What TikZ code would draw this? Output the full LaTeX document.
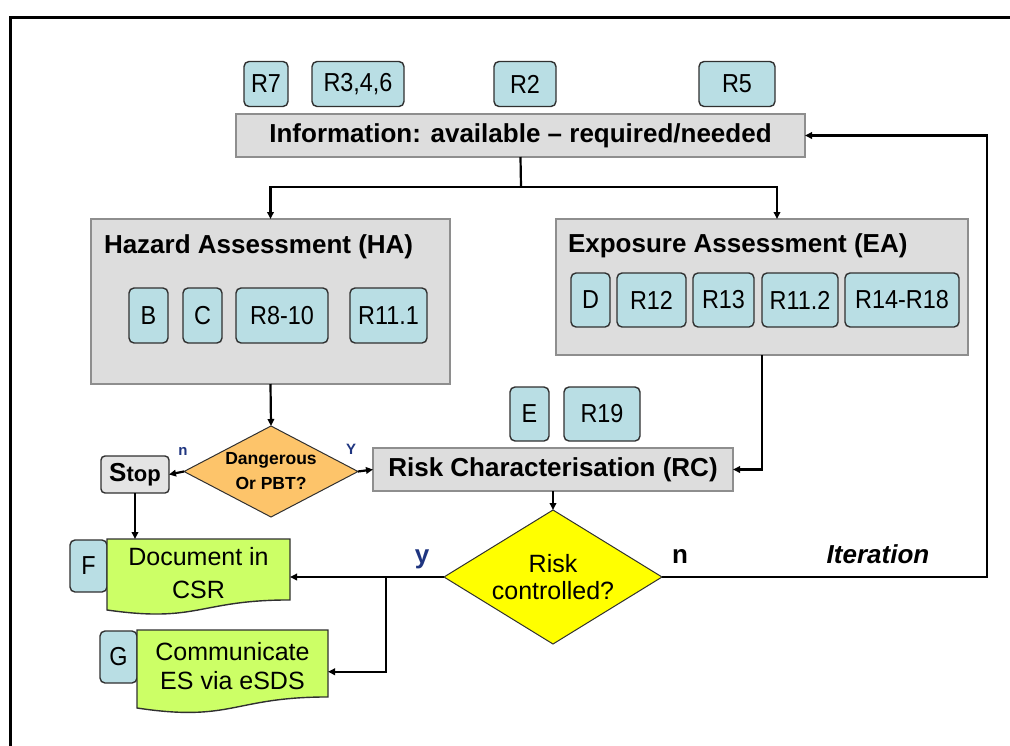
\documentclass[tikz,border=0pt]{standalone}
\usepackage{fontspec}
\setmainfont{Liberation Sans}
\newfontfamily\condensedsans[FakeStretch=0.9]{Liberation Sans}
\usetikzlibrary{arrows.meta,shapes.geometric,calc}

\definecolor{refcyan}{HTML}{B9DEE4}
\definecolor{refline}{HTML}{303030}
\definecolor{panelfill}{HTML}{DDDDDD}
\definecolor{panelline}{HTML}{8E8E8E}
\definecolor{stopfill}{HTML}{E4E4E4}
\definecolor{pbtorange}{HTML}{FDC46A}
\definecolor{ctrlyellow}{HTML}{FFFF00}
\definecolor{docgreen}{HTML}{CCFF66}
\definecolor{navy}{HTML}{1F3580}

% flow-chart "document" outline drawn from a named node: #1 node, #2 full height
\newcommand\docoutline[2]{%
  \path[docshape] (#1.north west) -- (#1.north east)
    -- ([yshift={-0.802*#2pt}]#1.north east)
    .. controls ([yshift={-0.802*#2pt}]#1.north) and ([yshift={-1.107*#2pt}]#1.north)
    .. ([yshift={-0.934*#2pt}]#1.north west) -- cycle;}

\begin{document}
\begin{tikzpicture}[x=1pt,y=-1pt,
  every node/.style={outer sep=0pt},
  conn/.style={line width=2.2pt, draw=black},
  arr/.style={conn, -{Triangle[length=7pt,width=6.5pt]}},
  refbox/.style={draw=refline, fill=refcyan, line width=1.4pt, rounded corners=5pt,
    inner sep=0pt, font=\condensedsans\fontsize{26}{28}\selectfont},
  panel/.style={draw=panelline, fill=panelfill, line width=1.6pt, inner sep=0pt},
  paneltitle/.style={inner sep=0pt, anchor=base west, font=\fontsize{26}{30}\selectfont\bfseries},
  stopbox/.style={draw=refline, fill=stopfill, line width=1.4pt, rounded corners=4pt,
    inner sep=0pt, font=\fontsize{22}{26}\selectfont\bfseries},
  decision/.style={diamond, draw=refline, line width=1pt, inner sep=0pt, align=center},
  docbox/.style={draw=none, inner sep=0pt},
  docshape/.style={draw=refline, fill=docgreen, line width=1.4pt},
  doctext/.style={inner sep=0pt, align=center, font=\fontsize{25}{33}\selectfont},
  branchlab/.style={inner sep=0pt, anchor=base, font=\fontsize{26}{30}\selectfont\bfseries},
  smalllab/.style={inner sep=0pt, text=navy, font=\fontsize{15}{17}\selectfont\bfseries}
]
\useasboundingbox (0,0) rectangle (1010,745);

% page frame
\draw[line width=3pt] (1012,17.5) -- (10.5,17.5) -- (10.5,747);

% information sources
\node[refbox, minimum width=44pt, minimum height=45pt] (r7)   at (266,84)  {R7};
\node[refbox, minimum width=92pt, minimum height=45pt] (r346) at (358,84)  {R3,4,6};
\node[refbox, minimum width=62pt, minimum height=45pt] (r2)   at (525,84)  {R2};
\node[refbox, minimum width=76pt, minimum height=45pt] (r5)   at (737,84)  {R5};

\node[panel, minimum width=569pt, minimum height=43pt,
      font=\fontsize{26}{30}\selectfont\bfseries] (info) at (520.5,135.5)
      {Information: available – required/needed};

% hazard assessment
\node[panel, minimum width=359pt, minimum height=165pt] (ha) at (270.5,301.5) {};
\node[paneltitle] (hatitle) at (104,253) {Hazard Assessment (HA)};
\node[refbox, minimum width=39pt, minimum height=55pt] (b)    at (148.5,315.5) {B};
\node[refbox, minimum width=39pt, minimum height=55pt] (c)    at (202.5,315.5) {C};
\node[refbox, minimum width=92pt, minimum height=55pt] (r810) at (282,315.5)   {R8-10};
\node[refbox, minimum width=77pt, minimum height=55pt] (r111) at (388.5,315.5) {R11.1};

% exposure assessment
\node[panel, minimum width=412pt, minimum height=136pt] (ea) at (762,287) {};
\node[paneltitle] (eatitle) at (568,252) {Exposure Assessment (EA)};
\node[refbox, minimum width=39pt,  minimum height=54pt] (d)     at (590.5,300) {D};
\node[refbox, minimum width=69pt,  minimum height=54pt] (r12)   at (651.5,300) {R12};
\node[refbox, minimum width=61pt,  minimum height=54pt] (r13)   at (723.5,300) {R13};
\node[refbox, minimum width=76pt,  minimum height=54pt] (r112)  at (800,300)   {R11.2};
\node[refbox, minimum width=114pt, minimum height=54pt] (r1418) at (902,300)   {R14-R18};

% hazard decision
\node[decision, fill=pbtorange, minimum width=174pt, minimum height=91pt, aspect=1.9,
      font=\fontsize{17.5}{25}\selectfont\bfseries] (pbt) at (271,471.5) {Dangerous\\Or PBT?};
\node[stopbox, minimum width=68pt, minimum height=37pt] (stop) at (135,474.5)
      {{\fontsize{26}{26}\selectfont S}top};
\node[smalllab] (pbtn) at (183,451) {n};
\node[smalllab] (pbty) at (351,449) {Y};

% risk characterisation
\node[refbox, minimum width=39pt, minimum height=54pt] (e)   at (529.5,414) {E};
\node[refbox, minimum width=76pt, minimum height=54pt] (r19) at (602,414)   {R19};
\node[panel, minimum width=360pt, minimum height=43pt,
      font=\fontsize{26}{30}\selectfont\bfseries] (rc) at (553,469.5) {Risk Characterisation (RC)};

\node[decision, fill=ctrlyellow, minimum width=218pt, minimum height=134pt, aspect=1.63,
      font=\fontsize{25}{27}\selectfont] (ctrl) at (553,577) {Risk\\controlled?};
\node[branchlab, text=navy] (ctrly) at (422,563) {y};
\node[branchlab] (ctrln) at (680,563) {n};
\node[branchlab, font=\fontsize{26}{30}\selectfont\bfseries\itshape] (iter) at (878,563) {Iteration};

% outputs
\node[refbox, minimum width=37pt, minimum height=52pt] (fbox) at (88.5,566) {F};
\node[docbox, minimum width=183pt, minimum height=76pt] (fdoc) at (198.5,577) {};
\docoutline{fdoc}{76}
\node[doctext] (ftext) at (198.5,573) {Document in\\CSR};

\node[refbox, minimum width=37pt, minimum height=52pt] (gbox) at (118.5,657) {G};
\node[docbox, minimum width=191pt, minimum height=83.5pt] (gdoc) at (232.5,671.75) {};
\docoutline{gdoc}{83.5}
\node[doctext, font=\fontsize{25}{29.5}\selectfont] (gtext) at (232.5,666) {Communicate\\ES via eSDS};

% connectors
\coordinate (split) at (521,187);
\draw[conn] (info.south) -- (split);
\draw[arr] (split) -| (ha.north);
\draw[arr] (split) -| ([xshift=15pt]ea.north);
\draw[arr] (ha.south) -- (pbt.north);
\draw[arr] (pbt.west) -- (stop.east);
\draw[arr] (pbt.east) -- (rc.west);
\draw[arr] (ea.south) |- (rc.east);
\draw[arr] (rc.south) -- (ctrl.north);
\coordinate (loop) at (987,135.5);
\draw[arr] (ctrl.east) -| (loop) -- (info.east);
\draw[arr] (ctrl.west) -- (ctrl.west -| fdoc.east);
\coordinate (fork) at (386,577);
\draw[arr] (fork) |- (gdoc.east);
\draw[arr] (stop.south) -- (stop.south |- fdoc.north);
\end{tikzpicture}
\end{document}
